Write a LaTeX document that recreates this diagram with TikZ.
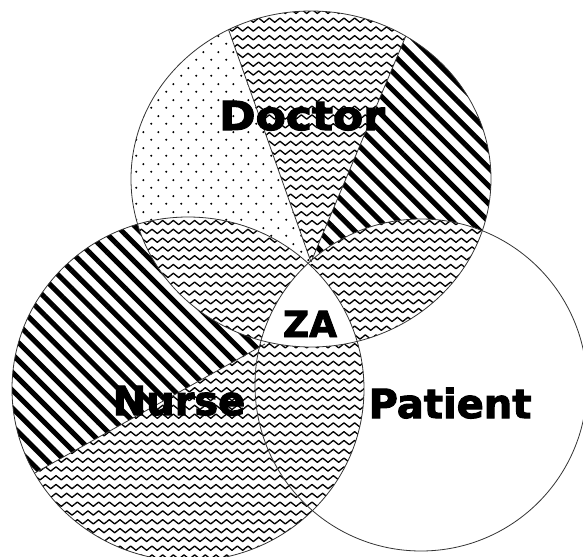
\documentclass[tikz,border=0pt]{standalone}
\usepackage{fontspec}
\newfontfamily\venfont[BoldFeatures={FakeBold=2.5}]{DejaVu Sans}
\usetikzlibrary{patterns.meta}

\tikzdeclarepattern{
  name=zigwave,
  type=uncolored,
  bottom left={(-0.6pt,-3pt)},
  top right={(8.6pt,3pt)},
  tile size={(8pt,6.6pt)},
  code={
    \draw[line width=1pt, line join=round] (0pt,0pt) -- (2pt,1.6pt) -- (6pt,-1.6pt) -- (8pt,0pt);
  }
}
\tikzdeclarepattern{
  name=thickstripes,
  type=uncolored,
  bottom left={(-0.1pt,-4.75pt)},
  top right={(9.6pt,4.75pt)},
  tile size={(9.5pt,9.5pt)},
  tile transformation={rotate=-45},
  code={
    \fill (-0.1pt,-1.9pt) rectangle (9.6pt,1.9pt);
  }
}
\tikzdeclarepattern{
  name=sparsedots,
  type=uncolored,
  bottom left={(0pt,0pt)},
  top right={(11.25pt,12pt)},
  tile size={(11.25pt,12pt)},
  code={
    \fill (1pt,1pt) circle [radius=0.9pt];
    \fill (6.625pt,7pt) circle [radius=0.9pt];
  }
}

\def\doctorset{(311,179) ellipse [x radius=180, y radius=168]}
\def\nurseset{(188,389) ellipse [x radius=176, y radius=172]}
\def\patientset{(421,385) ellipse [x radius=166, y radius=166]}

\tikzset{
  wavefill/.style={fill=white, postaction={pattern=zigwave, pattern color=black}},
  stripefill/.style={fill=white, postaction={pattern=thickstripes, pattern color=black}},
  dotfill/.style={fill=white, postaction={pattern=sparsedots, pattern color=black}},
  rim/.style={line width=0.6pt, black!80},
  setlabel/.style={font=\venfont\bfseries\fontsize{30}{30}\selectfont, anchor=base, inner sep=0pt},
  zalabel/.style={setlabel, font=\venfont\bfseries\fontsize{27}{27}\selectfont},
}

\begin{document}
\begin{tikzpicture}[x=0.75pt, y=-0.75pt]
    \useasboundingbox (0,0) rectangle (583,557);
    % Coordinate
    \coordinate (apex) at (311,262);
    \coordinate (lefttop) at (145,-206);
    \coordinate (righttop) at (499,-186);
    \coordinate (split) at (265,344);
    \coordinate (splitend) at (-83,539);
    \coordinate (splitback) at (381,279);
    % Doctor sectors
    \begin{scope}
        \clip \doctorset;
        \fill[dotfill] (apex) -- (lefttop) -- (-100,-250) -- (-100,650) -- cycle;
        \fill[wavefill] (apex) -- (lefttop) -- (righttop) -- cycle;
        \fill[stripefill] (apex) -- (righttop) -- (700,-250) -- (700,650) -- cycle;
    \end{scope}
    % Nurse
    \begin{scope}
        \clip \nurseset;
        \fill[wavefill] (0,200) rectangle (400,600);
        \fill[stripefill] (splitend) -- (splitback) -- (381,150) -- (-83,150) -- cycle;
    \end{scope}
    \begin{scope}
        \clip \doctorset;
        \clip \nurseset;
        \fill[wavefill] (0,0) rectangle (583,557); % doctor and nurse
    \end{scope}
    % Patient
    \begin{scope}
        \clip \patientset;
        \fill[white] (200,200) rectangle (600,600);
        \begin{scope}
            \clip \doctorset;
            \fill[wavefill] (200,200) rectangle (600,600);
        \end{scope}
        \begin{scope}
            \clip \nurseset;
            \fill[wavefill] (200,200) rectangle (600,600);
        \end{scope}
        \begin{scope}
            \clip \doctorset;
            \clip \nurseset;
            \fill[white] (200,200) rectangle (600,600); % all three
        \end{scope}
    \end{scope}
    % Linee
    \begin{scope}
        \clip \doctorset;
        \draw[rim] (apex) -- (lefttop);
        \draw[rim] (apex) -- (righttop);
    \end{scope}
    \begin{scope}
        \clip \nurseset;
        \draw[rim] (split) -- (splitend);
    \end{scope}
    \draw[rim] \doctorset;
    \draw[rim] \nurseset;
    \draw[rim] \patientset;
    % Writing space
    \node[setlabel, xscale=1.1] (doctor) at (302,130) {Doctor};
    \node[setlabel] (nurse) at (179,415) {Nurse};
    \node[setlabel] (patient) at (450,418) {Patient};
    \node[zalabel] (za) at (310,337) {ZA};
\end{tikzpicture}
\end{document}
